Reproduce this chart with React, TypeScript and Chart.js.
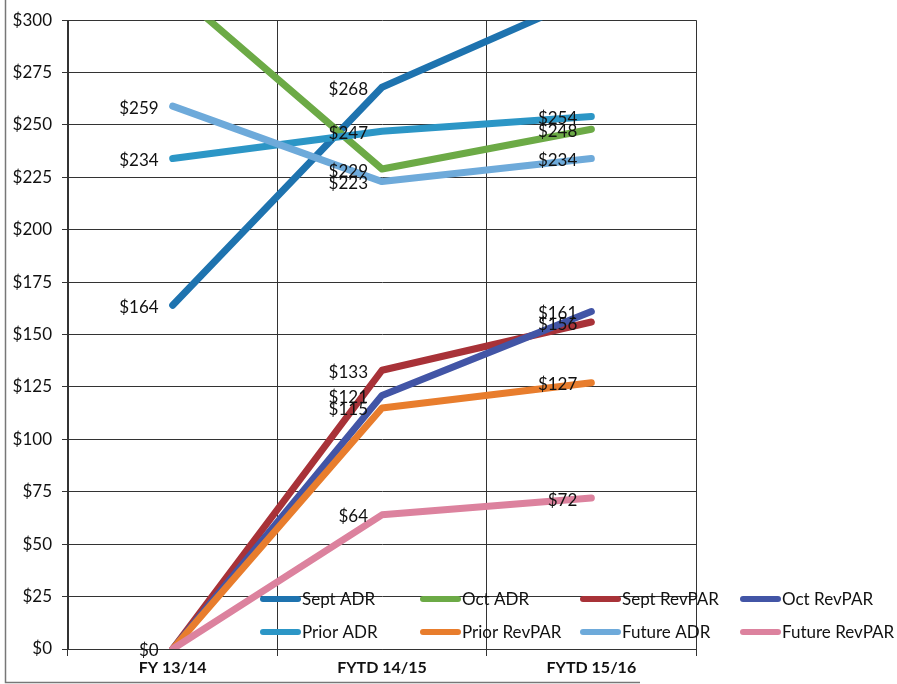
import React, { useEffect, useRef } from "react";
import { Chart, registerables } from "chart.js";

Chart.register(...registerables);

const categories = ["FY 13/14", "FYTD 14/15", "FYTD 15/16"];
const seriesNames = [
  "Sept ADR",
  "Oct ADR",
  "Sept RevPAR",
  "Oct RevPAR",
  "Prior ADR",
  "Prior RevPAR",
  "Future ADR",
  "Future RevPAR",
];
const septADR = [164, 268, 312];
const octADR = [315, 229, 248];
const septRevPAR = [0, 133, 156];
const octRevPAR = [0, 121, 161];
const priorADR = [234, 247, 254];
const priorRevPAR = [0, 115, 127];
const futureADR = [259, 223, 234];
const futureRevPAR = [0, 64, 72];
const seriesColors = [
  "#1E73AF",
  "#6CAA46",
  "#A83238",
  "#4255A6",
  "#2C96C6",
  "#E87D2D",
  "#6EAADA",
  "#DC829E",
];
const yMin = 0;
const yMax = 300;
const yStep = 25;

const FONT = "Lato, 'Open Sans', sans-serif";

const labelPlugin = {
  id: "valueLabels",
  afterDatasetsDraw(chart: any) {
    const ctx = chart.ctx;
    const area = chart.chartArea;
    ctx.save();
    ctx.font = `17px ${FONT}`;
    ctx.fillStyle = "#111";
    ctx.textAlign = "right";
    ctx.textBaseline = "middle";
    const drawn: Record<string, boolean> = {};
    chart.data.datasets.forEach((ds: any, i: number) => {
      const meta = chart.getDatasetMeta(i);
      meta.data.forEach((pt: any, j: number) => {
        const v = ds.data[j];
        if (v < yMin || v > yMax) return;
        if (pt.y < area.top - 1 || pt.y > area.bottom + 1) return;
        const key = `${j}-${v}`;
        if (drawn[key]) return;
        drawn[key] = true;
        ctx.fillText("$" + v, pt.x - 14, pt.y + 2);
      });
    });
    ctx.restore();
  },
  afterDraw(chart: any) {
    const ctx = chart.ctx;
    ctx.save();
    // legend
    const cols = [260, 420, 580, 740];
    const rows = [599, 632];
    ctx.font = `17px ${FONT}`;
    ctx.textAlign = "left";
    ctx.textBaseline = "middle";
    seriesNames.forEach((name, i) => {
      const x = cols[i % 4];
      const y = rows[Math.floor(i / 4)];
      ctx.strokeStyle = seriesColors[i];
      ctx.lineWidth = 6;
      ctx.lineCap = "round";
      ctx.beginPath();
      ctx.moveTo(x + 3, y);
      ctx.lineTo(x + 38, y);
      ctx.stroke();
      ctx.fillStyle = "#111";
      ctx.fillText(name, x + 42, y + 1);
    });
    // outer frame
    ctx.strokeStyle = "#777";
    ctx.lineWidth = 1.5;
    ctx.lineCap = "butt";
    ctx.beginPath();
    ctx.moveTo(5.5, 0);
    ctx.lineTo(5.5, 682.5);
    ctx.lineTo(640, 682.5);
    ctx.stroke();
    ctx.restore();
  },
};

export default function App() {
  const ref = useRef<HTMLCanvasElement>(null);
  useEffect(() => {
    if (!ref.current) return;
    const allSeries = [
      septADR,
      octADR,
      septRevPAR,
      octRevPAR,
      priorADR,
      priorRevPAR,
      futureADR,
      futureRevPAR,
    ];
    const chart = new Chart(ref.current, {
      type: "line",
      data: {
        labels: categories,
        datasets: allSeries.map((d, i) => ({
          label: seriesNames[i],
          data: d,
          borderColor: seriesColors[i],
          backgroundColor: seriesColors[i],
          borderWidth: 7,
          borderCapStyle: "round",
          borderJoinStyle: "round",
          pointRadius: 0,
          tension: 0,
          fill: false,
          order: allSeries.length - i,
        })),
      },
      options: {
        animation: false,
        responsive: false,
        layout: { padding: { top: 19, right: 201, left: 0, bottom: 0 } },
        plugins: {
          legend: { display: false },
          tooltip: { enabled: false },
        },
        scales: {
          x: {
            offset: true,
            grid: {
              offset: true,
              color: "#333",
              lineWidth: 1,
              tickLength: 7,
              drawTicks: true,
            },
            border: { color: "#333", width: 1 },
            ticks: {
              font: { family: FONT, size: 16, weight: "bold" },
              color: "#111",
              padding: 2,
            },
            afterFit(scale: any) {
              scale.height = 35;
            },
          },
          y: {
            min: yMin,
            max: yMax,
            grid: { color: "#333", lineWidth: 1, tickLength: 6 },
            border: { color: "#333", width: 1 },
            ticks: {
              stepSize: yStep,
              font: { family: FONT, size: 17 },
              color: "#111",
              padding: 10,
              callback: (v: any) => "$" + v,
            },
            afterFit(scale: any) {
              scale.width = 68;
            },
          },
        },
      },
      plugins: [labelPlugin],
    });
    return () => chart.destroy();
  }, []);
  return (
    <div style={{ position: "fixed", left: 0, top: 0, width: 897, height: 684, background: "#fff" }}>
      <canvas ref={ref} width={897} height={684} style={{ display: "block" }} />
    </div>
  );
}
